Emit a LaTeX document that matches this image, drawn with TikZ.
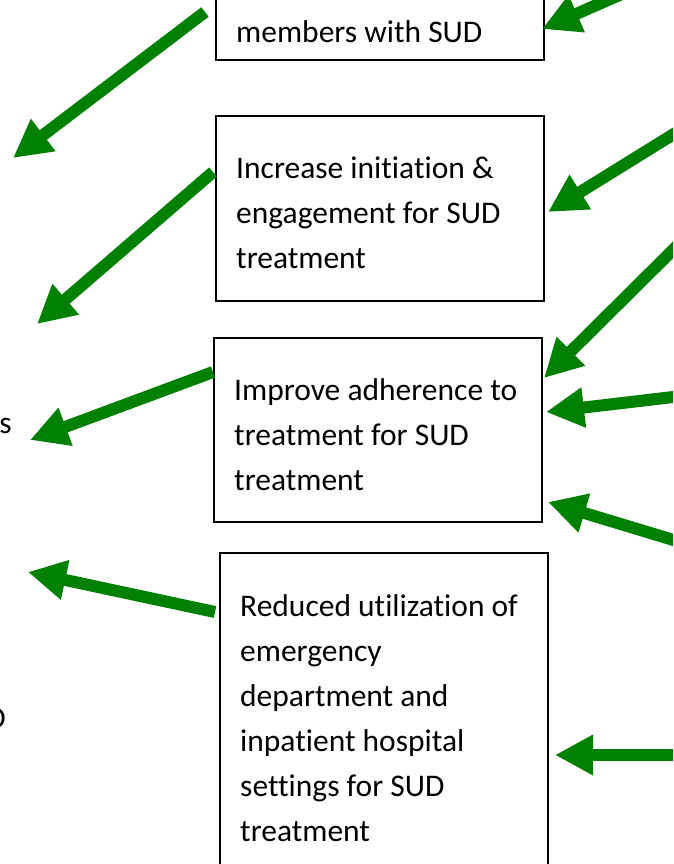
\documentclass[tikz,border=0pt]{standalone}
\usepackage{fontspec}
\setmainfont{Carlito}[Ligatures=NoCommon]
\usetikzlibrary{arrows.meta}
\definecolor{arrowgreen}{RGB}{0,128,0}
\tikzset{
  outcome/.style={draw=black, line width=1.6pt, rectangle, inner sep=0pt, minimum width=328pt},
  boxtext/.style={node font=\fontsize{31.5}{45}\selectfont, align=left, inner sep=0pt, anchor=base west},
  grarrow/.style={draw=arrowgreen, line width=12pt, -{Triangle[length=38pt,width=38pt,fill=arrowgreen]}}
}
\begin{document}
\begin{tikzpicture}[x=1pt,y=-1pt]
\useasboundingbox (0,0) rectangle (673,864);
\clip (0,0) rectangle (673,864);
% outcome boxes
\node [outcome, minimum height=160pt, anchor=south west] (members) at (215,61) {};
\node [outcome, minimum height=185pt, anchor=north west] (initiation) at (215,115) {};
\node [outcome, minimum height=184pt, anchor=north west] (adherence) at (213,337) {};
\node [outcome, minimum height=360pt, anchor=north west] (utilization) at (219,552) {};
% box texts (placed by the baseline of their last line)
\node [boxtext] (memberstext) at (236,43) {members with SUD};
\node [boxtext] (initiationtext) at (236,268) {Increase initiation \&\\engagement for SUD\\treatment};
\node [boxtext] (adherencetext) at (234,490) {Improve adherence to\\treatment for SUD\\treatment};
\node [boxtext] (utilizationtext) at (240,841) {Reduced utilization of\\emergency\\department and\\inpatient hospital\\settings for SUD\\treatment};
% cut-off text on the left
\node [boxtext, anchor=base east] (lefts) at (12,433) {s};
\node [boxtext, anchor=base east] (leftd) at (6,728) {D};
% arrow ends
\coordinate (a1s) at (205,12);  \coordinate (a1e) at (13,158);
\coordinate (a2s) at (213,172); \coordinate (a2e) at (37,324);
\coordinate (a3s) at (213,372); \coordinate (a3e) at (30,440);
\coordinate (a4s) at (215,612); \coordinate (a4e) at (28,572);
\coordinate (a5s) at (690,-36); \coordinate (a5e) at (542,29);
\coordinate (a6s) at (690,124); \coordinate (a6e) at (548,212);
\coordinate (a7s) at (690,233); \coordinate (a7e) at (544,378);
\coordinate (a8s) at (690,395); \coordinate (a8e) at (546,412);
\coordinate (a9s) at (690,545); \coordinate (a9e) at (548,502);
\coordinate (a10s) at (690,755); \coordinate (a10e) at (555,755);
\foreach \n in {1,...,10}
  \draw [grarrow] (a\n s) -- (a\n e);
\end{tikzpicture}
\end{document}
